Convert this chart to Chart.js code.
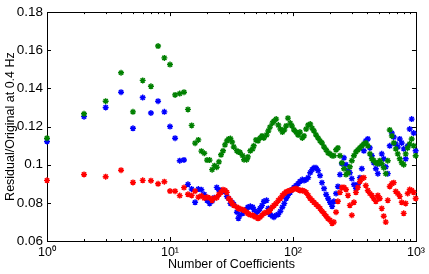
<!DOCTYPE html>
<html><head><meta charset="utf-8">
<script src="https://cdn.jsdelivr.net/npm/chart.js@4.4.1/dist/chart.umd.min.js"></script>
<style>html,body{margin:0;padding:0;background:#fff;}#c{display:block;}</style>
</head><body>
<canvas id="c" width="429" height="274"></canvas>
<script>
const coeffs = [1,2,3,4,5,6,7,8,9,10,11,12,13,14,15,16,17,18,19,20,21,22,23,24,25,26,27,28,29,30,
31,32,33,35,36,37,39,40,42,43,45,47,48,50,52,54,56,58,61,63,65,68,70,73,76,79,82,85,88,91,
95,98,102,106,110,114,119,123,128,133,138,143,148,154,160,166,172,179,186,193,200,208,215,224,232,241,
250,260,270,280,290,301,313,325,337,350,363,377,391,406,422,438,454,472,490,508,527,547,568,590,
612,636,660,685,711,738,766,795,825,856,889,923,958,994];

const greenSeries = [0.1139,0.1267,0.1333,0.1482,0.1277,0.1442,0.1411,0.1622,0.1560,0.1525,0.1366,0.1373,0.1380,0.1290,
0.1206,0.1113,0.1130,0.1071,0.1060,0.1024,0.1024,0.0974,0.0995,0.0987,0.1015,0.1052,0.1073,0.1104,0.1125,0.1135,
0.1137,0.1119,0.1093,0.1073,0.1067,0.1065,0.1047,0.1026,0.1026,0.1041,
0.1073,0.1083,0.1099,0.1130,0.1125,0.1140,0.1151,0.1140,0.1156,0.1177,
0.1197,0.1218,0.1229,0.1239,0.1208,0.1187,0.1171,0.1182,0.1203,0.1244,
0.1218,0.1203,0.1182,0.1171,0.1156,0.1171,0.1140,0.1151,0.1187,0.1208,
0.1213,0.1192,0.1177,0.1156,0.1140,0.1125,0.1114,0.1093,0.1078,0.1062,
0.1057,0.1047,0.1047,0.1078,0.1088,0.1047,0.1010,0.0979,0.0948,0.0958,
0.0989,0.1021,0.1047,0.1067,0.1078,0.1088,0.1099,0.1109,0.1114,0.1099,
0.1057,0.1031,0.1021,0.1010,0.1005,0.1021,0.1005,0.0984,0.0953,0.1021,
0.1182,0.1151,0.1114,0.1083,0.1057,0.1031,0.1010,0.1000,0.1057,0.1088,
0.1109,0.1135,0.1099,0.1047];

const blueSeries = [0.1122,0.1252,0.1300,0.1380,0.1191,0.1352,0.1271,0.1333,0.1277,0.1200,0.1139,0.1021,0.1025,0.0897,
0.0872,0.0803,0.0872,0.0869,0.0844,0.0813,0.0797,0.0809,0.0827,0.0881,0.0867,0.0865,0.0862,0.0860,0.0834,0.0823,
0.0797,0.0803,0.0792,0.0751,0.0719,0.0735,0.0745,0.0756,0.0766,0.0777,
0.0782,0.0777,0.0766,0.0745,0.0756,0.0771,0.0787,0.0808,0.0813,0.0771,
0.0740,0.0730,0.0725,0.0735,0.0740,0.0756,0.0777,0.0797,0.0823,0.0839,
0.0855,0.0870,0.0881,0.0891,0.0901,0.0912,0.0922,0.0917,0.0922,0.0932,
0.0958,0.0974,0.0984,0.0984,0.0969,0.0943,0.0906,0.0875,0.0844,0.0823,
0.0803,0.0782,0.0808,0.0849,0.0886,0.0948,0.1005,0.1036,0.1000,0.0969,
0.0958,0.0927,0.0896,0.0875,0.0896,0.0932,0.0979,0.1073,0.1125,0.1135,
0.1088,0.1047,0.1010,0.0979,0.0953,0.1005,0.1057,0.1031,0.0989,0.0953,
0.1099,0.1166,0.1145,0.1109,0.1093,0.1135,0.1114,0.1083,0.1031,0.1099,
0.1187,0.1239,0.1166,0.1073];

const redSeries = [0.0918,0.0949,0.0937,0.0971,0.0907,0.0918,0.0916,0.0900,0.0911,0.0862,0.0861,0.0838,0.0880,0.0845,
0.0839,0.0861,0.0830,0.0837,0.0825,0.0830,0.0825,0.0813,0.0825,0.0827,0.0844,0.0855,0.0869,0.0865,0.0855,0.0823,
0.0813,0.0797,0.0787,0.0777,0.0771,0.0769,0.0764,0.0761,0.0751,0.0743,
0.0737,0.0735,0.0730,0.0725,0.0719,0.0725,0.0735,0.0745,0.0751,0.0753,
0.0761,0.0777,0.0787,0.0797,0.0813,0.0823,0.0839,0.0849,0.0857,0.0862,
0.0865,0.0867,0.0873,0.0875,0.0870,0.0865,0.0865,0.0862,0.0855,0.0839,
0.0823,0.0813,0.0803,0.0792,0.0782,0.0771,0.0756,0.0745,0.0730,0.0717,
0.0709,0.0693,0.0699,0.0751,0.0808,0.0855,0.0881,0.0881,0.0870,0.0839,
0.0787,0.0735,0.0803,0.0855,0.0881,0.0912,0.0927,0.0932,0.0891,0.0865,
0.0849,0.0839,0.0823,0.0808,0.0839,0.0823,0.0771,0.0730,0.0699,0.0813,
0.0886,0.0901,0.0906,0.0860,0.0849,0.0834,0.0803,0.0745,0.0797,0.0849,
0.0870,0.0865,0.0855,0.0823];

const yTicks = [0.06,0.08,0.1,0.12,0.14,0.16,0.18];
const xTicks = [1,10,100,1000];
const xTickLabels = ['10\u2070','10\u00B9','10\u00B2','10\u00B3'];
const xTitle = 'Number of Coefficients';
const yTitle = 'Residual/Original at 0.4 Hz';

const toPts = arr => coeffs.map((c,i)=>({x:c,y:arr[i]}));
const FONT = 'Liberation Sans, Arial, Helvetica, sans-serif';

const axesBox = {
  id:'axesBox',
  beforeDatasetsDraw(chart){
    const {ctx, chartArea:a, scales:{x,y}} = chart;
    ctx.save();
    ctx.strokeStyle='#000'; ctx.lineWidth=1;
    ctx.strokeRect(Math.round(a.left)+0.5, Math.round(a.top)+0.5, Math.round(a.right-a.left), Math.round(a.bottom-a.top));
    ctx.beginPath();
    yTicks.forEach(v=>{
      const p=Math.round(y.getPixelForValue(v))+0.5;
      ctx.moveTo(a.left,p); ctx.lineTo(a.left+4,p);
      ctx.moveTo(a.right,p); ctx.lineTo(a.right-4,p);
    });
    for (let d=1; d<=1000; d*=10){
      for (let m=1; m<10; m++){
        const v=d*m; if (v>1000) break;
        const p=Math.round(x.getPixelForValue(v))+0.5;
        const L = m===1?4:2;
        ctx.moveTo(p,a.bottom); ctx.lineTo(p,a.bottom-L);
        ctx.moveTo(p,a.top); ctx.lineTo(p,a.top+L);
      }
    }
    ctx.stroke();
    ctx.restore();
  }
};

const mk = (label, data, color, order) => ({
  label, data: toPts(data), order,
  pointStyle:'star', radius:3, borderWidth:1.4,
  borderColor:color, backgroundColor:color, showLine:false, clip:false
});

new Chart(document.getElementById('c'), {
  type:'scatter',
  data:{datasets:[
    mk('blue', blueSeries, 'rgb(0,0,255)', 3),
    mk('green', greenSeries, 'rgb(0,128,0)', 2),
    mk('red', redSeries, 'rgb(255,0,0)', 1)
  ]},
  options:{
    responsive:false, animation:false, devicePixelRatio:1,
    layout:{padding:{top:10,right:12,left:0,bottom:0}},
    plugins:{legend:{display:false}, tooltip:{enabled:false}},
    scales:{
      x:{
        type:'logarithmic', min:1, max:1000,
        grid:{display:false, drawTicks:false}, border:{display:false},
        afterBuildTicks:s=>{s.ticks = xTicks.map(v=>({value:v, major:true}));},
        afterFit:s=>{s.height=33;},
        ticks:{padding:4, color:'#000', maxRotation:0, autoSkip:false,
          font:{family:FONT, size:12.5},
          callback:(v)=>{const i=xTicks.indexOf(v); return i>=0?xTickLabels[i]:'';}},
        title:{display:true, text:xTitle, color:'#000', font:{family:FONT, size:12.5}, padding:{top:0,bottom:2}}
      },
      y:{
        type:'linear', min:0.06, max:0.18,
        grid:{display:false, drawTicks:false}, border:{display:false},
        afterBuildTicks:s=>{s.ticks = yTicks.map(v=>({value:v}));},
        afterFit:s=>{s.width=47;},
        ticks:{padding:4, color:'#000', font:{family:FONT, size:13.5},
          callback:(v)=>String(Number(v.toFixed(2)))},
        title:{display:true, text:yTitle, color:'#000', font:{family:FONT, size:12.5}, padding:{top:3,bottom:0}}
      }
    }
  },
  plugins:[axesBox]
});
</script>
</body></html>
